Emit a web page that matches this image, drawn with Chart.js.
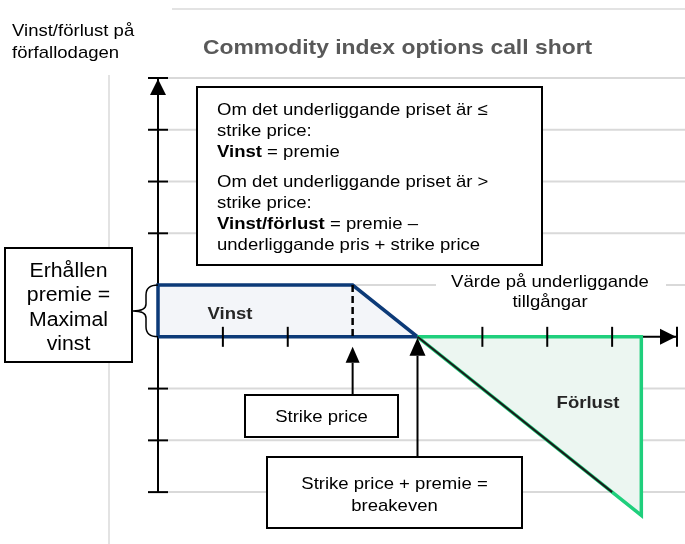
<!doctype html>
<html>
<head>
<meta charset="utf-8">
<title>Commodity index options call short</title>
<script src="https://cdn.jsdelivr.net/npm/chart.js@4.4.0/dist/chart.umd.min.js"></script>
<style>
body { margin: 0; background: #fff; }
#holder { width: 685px; height: 544px; }
</style>
</head>
<body>
<div id="holder"><canvas id="chart-area" width="685" height="544"></canvas></div>
<script>
// payoff for a short call: premie = 1, strike = 3, breakeven = 4 (diagram units)
var strike = 3;
var breakeven = 4;
var vinstX = [0, 0, 3, 4, 0];
var vinstY = [0, 1, 1, 0, 0];
var forlustX = [4, 7.45, 7.45, 4];
var forlustY = [0, 0, -3.45, 0];
var lossLineX = [4, 7];
var lossLineY = [0, -3];
var strikeX = [3, 3];
var strikeY = [1, 0];
var xTicks = [1, 2, 5, 6, 7];
var yTicks = [5, 4, 3, 2, -1, -2, -3];
var yGrid = [5, 4, 3, 2, 1, -1, -2, -3];

var FONT = '"Liberation Sans", Arial, sans-serif';
var SX = 1.09; // the source text is a little wider than plain Arial

function pts(xs, ys) {
    return xs.map(function (x, i) { return {x: x, y: ys[i]}; });
}

function line(ctx, x1, y1, x2, y2) {
    ctx.beginPath();
    ctx.moveTo(x1, y1);
    ctx.lineTo(x2, y2);
    ctx.stroke();
}

function box(ctx, x, y, w, h) {
    ctx.fillStyle = '#fff';
    ctx.fillRect(x, y, w, h);
    ctx.strokeStyle = '#000';
    ctx.lineWidth = 2;
    ctx.strokeRect(x, y, w, h);
}

// text, stretched horizontally by SX; returns drawn width
function txt(ctx, s, x, y, font, align) {
    ctx.save();
    ctx.font = font;
    ctx.textAlign = align || 'left';
    ctx.translate(x, y);
    ctx.scale(SX, 1);
    ctx.fillText(s, 0, 0);
    var w = ctx.measureText(s).width * SX;
    ctx.restore();
    return w;
}

function arrowUp(ctx, x, tipY, fromY, hw, hh) {
    ctx.strokeStyle = '#000';
    ctx.fillStyle = '#000';
    ctx.lineWidth = 2;
    line(ctx, x, fromY, x, tipY + hh);
    ctx.beginPath();
    ctx.moveTo(x, tipY);
    ctx.lineTo(x - hw, tipY + hh);
    ctx.lineTo(x + hw, tipY + hh);
    ctx.closePath();
    ctx.fill();
}

// bold lead-in followed by normal text
function mixed(ctx, bold, rest, x, y) {
    var w = bold ? txt(ctx, bold, x, y, 'bold 17px ' + FONT) : 0;
    txt(ctx, rest, x + w, y, '17px ' + FONT);
}

var decor = {
    id: 'decor',
    beforeDatasetsDraw: function (chart) {
        var ctx = chart.ctx;
        var xs = chart.scales.x, ys = chart.scales.y;
        var x0 = xs.getPixelForValue(0), y0 = ys.getPixelForValue(0);
        ctx.save();
        // light frame lines
        ctx.strokeStyle = '#e3e3e3';
        ctx.lineWidth = 2;
        line(ctx, 172, 9, chart.width, 9);
        line(ctx, 109, 75, 109, chart.height);
        // gridlines
        ctx.strokeStyle = '#d9d9d9';
        yGrid.forEach(function (v) {
            var y = ys.getPixelForValue(v);
            line(ctx, x0 + 10, y, chart.width, y);
        });
        // axes
        ctx.strokeStyle = '#000';
        ctx.fillStyle = '#000';
        ctx.lineWidth = 2;
        var yTop = ys.getPixelForValue(5), yBot = ys.getPixelForValue(-3);
        var xEnd = xs.getPixelForValue(8);
        line(ctx, x0, yTop, x0, yBot);
        line(ctx, x0, y0, xEnd, y0);
        yTicks.forEach(function (v) {
            var y = ys.getPixelForValue(v);
            line(ctx, x0 - 10, y, x0 + 10, y);
        });
        line(ctx, xEnd, y0 - 10, xEnd, y0 + 10);
        // arrow heads
        ctx.beginPath();
        ctx.moveTo(x0, yTop + 1);
        ctx.lineTo(x0 - 8, yTop + 17);
        ctx.lineTo(x0 + 8, yTop + 17);
        ctx.closePath();
        ctx.fill();
        ctx.beginPath();
        ctx.moveTo(xEnd - 1, y0);
        ctx.lineTo(xEnd - 17, y0 - 8);
        ctx.lineTo(xEnd - 17, y0 + 8);
        ctx.closePath();
        ctx.fill();
        ctx.restore();
    },
    afterDatasetsDraw: function (chart) {
        var ctx = chart.ctx;
        var xs = chart.scales.x, ys = chart.scales.y;
        var x0 = xs.getPixelForValue(0), y0 = ys.getPixelForValue(0);
        var y1 = ys.getPixelForValue(1);
        ctx.save();
        ctx.textBaseline = 'alphabetic';

        // x ticks sit on top of the shaded areas
        ctx.strokeStyle = '#000';
        ctx.lineWidth = 2;
        xTicks.forEach(function (v) {
            var x = xs.getPixelForValue(v);
            line(ctx, x, y0 - 10, x, y0 + 10);
        });

        // title and y label
        ctx.fillStyle = '#595959';
        txt(ctx, 'Commodity index options call short', 203, 53.5, 'bold 21px ' + FONT);
        ctx.fillStyle = '#000';
        txt(ctx, 'Vinst/förlust på', 12, 36, '17px ' + FONT);
        txt(ctx, 'förfallodagen', 12, 58, '17px ' + FONT);

        // rule box
        box(ctx, 197, 87, 345, 178);
        ctx.fillStyle = '#000';
        mixed(ctx, '', 'Om det underliggande priset är \u2264', 217, 115);
        mixed(ctx, '', 'strike price:', 217, 136);
        mixed(ctx, 'Vinst', ' = premie', 217, 157);
        mixed(ctx, '', 'Om det underliggande priset är >', 217, 187);
        mixed(ctx, '', 'strike price:', 217, 208);
        mixed(ctx, 'Vinst/förlust', ' = premie \u2013', 217, 229);
        mixed(ctx, '', 'underliggande pris + strike price', 217, 250);

        // x axis caption
        ctx.fillStyle = '#fff';
        ctx.fillRect(436, 274, 230, 36);
        ctx.fillStyle = '#000';
        txt(ctx, 'Värde på underliggande', 550, 287, '17px ' + FONT, 'center');
        txt(ctx, 'tillgångar', 550, 307, '17px ' + FONT, 'center');

        // area labels
        ctx.fillStyle = '#262626';
        txt(ctx, 'Vinst', 230, 319, 'bold 17px ' + FONT, 'center');
        txt(ctx, 'Förlust', 588, 408, 'bold 17px ' + FONT, 'center');

        // premium box with brace
        box(ctx, 5, 248, 127, 114);
        ctx.fillStyle = '#000';
        txt(ctx, 'Erhållen', 68.5, 277, '19.5px ' + FONT, 'center');
        txt(ctx, 'premie =', 68.5, 301, '19.5px ' + FONT, 'center');
        txt(ctx, 'Maximal', 68.5, 325.5, '19.5px ' + FONT, 'center');
        txt(ctx, 'vinst', 68.5, 350, '19.5px ' + FONT, 'center');
        var ym = (y0 + y1) / 2;
        ctx.strokeStyle = '#000';
        ctx.lineWidth = 1.5;
        ctx.beginPath();
        ctx.moveTo(x0, y1);
        ctx.quadraticCurveTo(x0 - 12, y1, x0 - 12, y1 + 10);
        ctx.lineTo(x0 - 12, ym - 7);
        ctx.quadraticCurveTo(x0 - 12, ym, x0 - 25, ym);
        ctx.quadraticCurveTo(x0 - 12, ym, x0 - 12, ym + 7);
        ctx.lineTo(x0 - 12, y0 - 10);
        ctx.quadraticCurveTo(x0 - 12, y0, x0, y0);
        ctx.stroke();

        // strike price callout
        var xs3 = xs.getPixelForValue(strike);
        arrowUp(ctx, xs3, y0 + 10, 395, 7, 16);
        box(ctx, 245, 395, 153, 42);
        ctx.fillStyle = '#000';
        txt(ctx, 'Strike price', 321.5, 422, '17px ' + FONT, 'center');

        // breakeven callout
        var xb = xs.getPixelForValue(breakeven);
        arrowUp(ctx, xb, y0 + 1, 457, 8, 18);
        box(ctx, 267, 457, 255, 71);
        ctx.fillStyle = '#000';
        txt(ctx, 'Strike price + premie =', 394.5, 489, '17px ' + FONT, 'center');
        txt(ctx, 'breakeven', 394.5, 511, '17px ' + FONT, 'center');
        ctx.restore();
    }
};

var ctx = document.getElementById('chart-area').getContext('2d');
window.myChart = new Chart(ctx, {
    type: 'scatter',
    data: {
        datasets: [{
            label: 'Strike',
            data: pts(strikeX, strikeY),
            showLine: true,
            borderColor: '#000',
            borderWidth: 2.5,
            borderDash: [7, 4],
            pointRadius: 0,
            fill: false
        }, {
            label: 'Payoff',
            data: pts(lossLineX, lossLineY),
            showLine: true,
            borderColor: '#1a1a1a',
            borderWidth: 2,
            pointRadius: 0,
            fill: false
        }, {
            label: 'Förlust',
            data: pts(forlustX, forlustY),
            showLine: true,
            borderColor: '#1fcf7c',
            backgroundColor: '#ecf6f1',
            borderWidth: 3.5,
            pointRadius: 0,
            fill: 'shape'
        }, {
            label: 'Vinst',
            data: pts(vinstX, vinstY),
            showLine: true,
            borderColor: '#0c3a78',
            backgroundColor: '#f3f5f9',
            borderWidth: 3.5,
            pointRadius: 0,
            fill: 'shape'
        }]
    },
    options: {
        responsive: false,
        animation: false,
        clip: false,
        layout: { padding: { left: 158, right: 8, top: 78, bottom: 26 } },
        scales: {
            x: { type: 'linear', min: 0, max: 8, display: false },
            y: { type: 'linear', min: -3.5, max: 5, display: false }
        },
        plugins: {
            legend: { display: false },
            tooltip: { enabled: false },
            title: { display: false }
        }
    },
    plugins: [decor]
});
</script>
</body>
</html>
